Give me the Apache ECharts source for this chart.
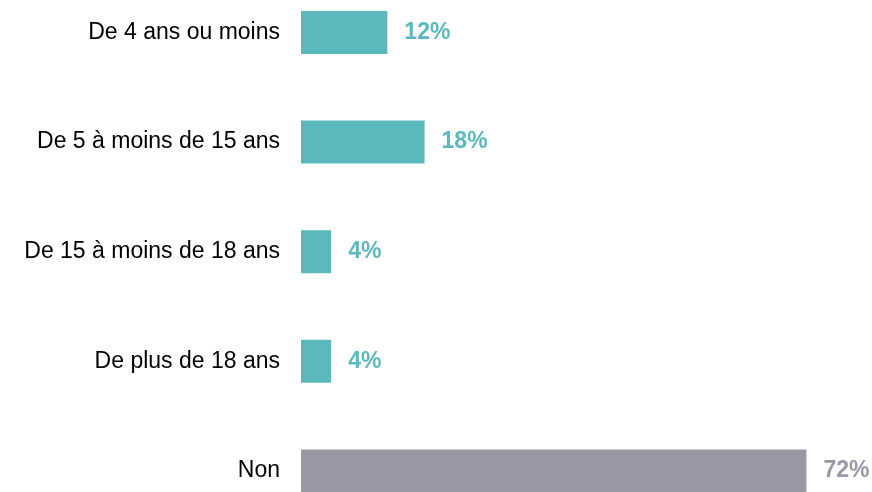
<!DOCTYPE html>
<html>
<head>
<meta charset="utf-8">
<script src="https://cdn.jsdelivr.net/npm/echarts@6/dist/echarts.min.js"></script>
<style>
  html, body { margin: 0; padding: 0; background: #fff; }
  #chart { width: 872px; height: 492px; }
</style>
</head>
<body>
<div id="chart"></div>
<script>
// categories and values (percent; labels rounded)
const categories = [
  'De 4 ans ou moins',
  'De 5 à moins de 15 ans',
  'De 15 à moins de 18 ans',
  'De plus de 18 ans',
  'Non'
]
const values = [12.3, 17.6, 4.3, 4.3, 72]
const barColors = ['#5bb9be', '#5bb9be', '#5bb9be', '#5bb9be', '#9b97a5']

const fontFamily = "'Liberation Sans', Arial, sans-serif"

const chart = echarts.init(document.getElementById('chart'))

chart.setOption({
  animation: false,
  grid: {
    left: 301,
    right: 9.4,
    top: -22.3,
    height: 548,
    outerBoundsMode: 'none'
  },
  xAxis: {
    type: 'value',
    min: 0,
    max: 80,
    show: false
  },
  yAxis: {
    type: 'category',
    data: categories,
    inverse: true,
    axisLine: { show: false },
    axisTick: { show: false },
    axisLabel: {
      margin: 21,
      color: '#000',
      fontFamily: fontFamily,
      fontSize: 23
    }
  },
  series: [
    {
      type: 'bar',
      barWidth: 43,
      data: values.map((v, i) => ({
        value: v,
        itemStyle: { color: barColors[i] },
        label: { color: barColors[i] }
      })),
      label: {
        show: true,
        position: 'right',
        distance: 17,
        formatter: p => Math.round(p.value) + '%',
        fontFamily: fontFamily,
        fontSize: 23,
        fontWeight: 'bold'
      }
    }
  ]
})
</script>
</body>
</html>
